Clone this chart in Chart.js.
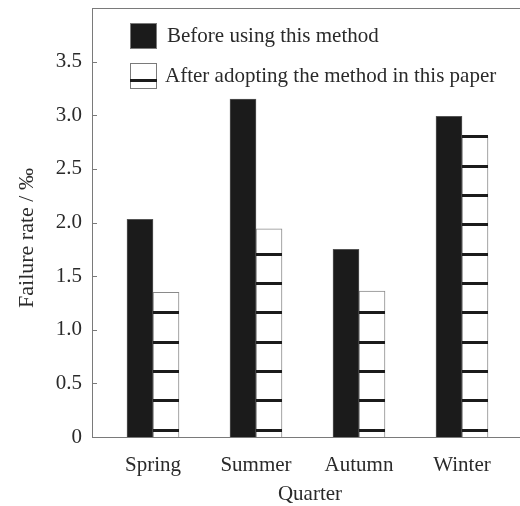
<!DOCTYPE html>
<html>
<head>
<meta charset="utf-8">
<script src="https://cdn.jsdelivr.net/npm/chart.js@4/dist/chart.umd.min.js"></script>
<style>
  html, body { margin: 0; padding: 0; background: #fff; }
  #wrap { width: 520px; height: 506px; position: relative; }
</style>
</head>
<body>
<div id="wrap"><canvas id="failureChart"></canvas></div>
<script>
const quarters = ['Spring', 'Summer', 'Autumn', 'Winter'];
const beforeMethod = [2.03, 3.15, 1.75, 2.99];
const afterMethod = [1.35, 1.94, 1.36, 2.80];
const yTicks = [0, 0.5, 1.0, 1.5, 2.0, 2.5, 3.0, 3.5];
const legendLabels = ['Before using this method', 'After adopting the method in this paper'];
const xTitle = 'Quarter';
const yTitle = 'Failure rate / \u2030';

const FONT = "'Liberation Serif', 'Times New Roman', serif";
const TEXT = '#2a2a2a';
const AXIS = '#7a7a7a';
const DARK = '#1b1b1b';

// hatch lines inside the "after" bars, measured from the bar base
const hatchStart = 7;
const hatchGap = 29.33;

function toPoints(values) {
  return values.map((v, i) => ({ x: i + 1, y: v }));
}

const hatchPlugin = {
  id: 'hatch',
  afterDatasetsDraw(chart) {
    const ctx = chart.ctx;
    const meta = chart.getDatasetMeta(1);
    ctx.save();
    ctx.fillStyle = DARK;
    meta.data.forEach((bar) => {
      const { x, y, base, width } = bar.getProps(['x', 'y', 'base', 'width'], true);
      const left = Math.round(x - width / 2);
      for (let k = 0; ; k++) {
        const cy = base - hatchStart - k * hatchGap;
        if (cy < y - 1.5) break;
        ctx.fillRect(left, Math.round(cy - 1.5), Math.round(width), 3);
      }
    });
    ctx.restore();
  },
};

const framePlugin = {
  id: 'frame',
  afterDraw(chart) {
    const ctx = chart.ctx;
    const area = chart.chartArea;
    const yScale = chart.scales.y;
    ctx.save();
    // top border
    ctx.strokeStyle = AXIS;
    ctx.lineWidth = 1;
    ctx.beginPath();
    ctx.moveTo(area.left, area.top + 0.5);
    ctx.lineTo(area.right, area.top + 0.5);
    ctx.stroke();
    // inward y ticks
    yTicks.forEach((v) => {
      const py = Math.round(yScale.getPixelForValue(v)) + 0.5;
      ctx.beginPath();
      ctx.moveTo(area.left, py);
      ctx.lineTo(area.left + 5, py);
      ctx.stroke();
    });

    // legend
    const boxX = 130;
    const boxW = 27;
    const boxH = 26;
    const rows = [23, 63];
    rows.forEach((top, i) => {
      ctx.lineWidth = 1;
      ctx.strokeStyle = AXIS;
      if (i === 0) {
        ctx.fillStyle = DARK;
        ctx.fillRect(boxX, top, boxW, boxH);
        ctx.strokeRect(boxX + 0.5, top + 0.5, boxW - 1, boxH - 1);
      } else {
        ctx.fillStyle = '#fff';
        ctx.fillRect(boxX, top, boxW, boxH);
        ctx.strokeRect(boxX + 0.5, top + 0.5, boxW - 1, boxH - 1);
        ctx.fillStyle = DARK;
        ctx.fillRect(boxX, top + 16, boxW, 3);
      }
      ctx.fillStyle = TEXT;
      ctx.font = '21px ' + FONT;
      ctx.textAlign = 'left';
      ctx.textBaseline = 'middle';
      ctx.fillText(legendLabels[i], i === 0 ? 167 : 165, top + boxH / 2);
    });

    // axis titles
    ctx.fillStyle = TEXT;
    ctx.font = '21px ' + FONT;
    ctx.textAlign = 'center';
    ctx.textBaseline = 'middle';
    ctx.fillText(xTitle, 310, 494);
    ctx.translate(33, 238);
    ctx.rotate(-Math.PI / 2);
    ctx.font = '22px ' + FONT;
    ctx.textBaseline = 'alphabetic';
    ctx.fillText(yTitle, 0, 0);
    ctx.restore();
  },
};

const ctx = document.getElementById('failureChart');
const failureChart = new Chart(ctx, {
  type: 'bar',
  data: {
    datasets: [
      {
        label: legendLabels[0],
        data: toPoints(beforeMethod),
        backgroundColor: DARK,
        borderColor: '#555',
        borderWidth: 1,
        barThickness: 26,
      },
      {
        label: legendLabels[1],
        data: toPoints(afterMethod),
        backgroundColor: '#fff',
        borderColor: '#8a8a8a',
        borderWidth: 1,
        barThickness: 26,
      },
    ],
  },
  options: {
    responsive: true,
    maintainAspectRatio: false,
    animation: false,
    layout: { padding: { top: 8, left: 0, right: 0, bottom: 0 } },
    plugins: {
      legend: { display: false },
      tooltip: { enabled: false },
    },
    scales: {
      x: {
        type: 'linear',
        offset: false,
        min: 1 - 61 / 103,
        max: 1 + (520 - 153) / 103,
        grid: { display: false, drawTicks: false },
        border: { display: true, color: AXIS, width: 1 },
        afterBuildTicks: (scale) => {
          scale.ticks = quarters.map((q, i) => ({ value: i + 1 }));
        },
        afterFit: (scale) => {
          scale.height = 69;
          scale.paddingLeft = 0;
          scale.paddingRight = 0;
        },
        ticks: {
          autoSkip: false,
          maxRotation: 0,
          padding: 16,
          color: TEXT,
          font: { family: FONT, size: 21 },
          callback: (value) => quarters[value - 1],
        },
      },
      y: {
        min: 0,
        max: 4,
        grid: { display: false, drawTicks: false },
        border: { display: true, color: AXIS, width: 1 },
        afterFit: (scale) => {
          scale.width = 92;
          scale.paddingTop = 0;
          scale.paddingBottom = 0;
        },
        ticks: {
          stepSize: 0.5,
          padding: 10,
          color: TEXT,
          font: { family: FONT, size: 21 },
          callback: (value) => {
            if (value === 4) return '';
            if (value === 0) return '0';
            return value.toFixed(1);
          },
        },
      },
    },
  },
  plugins: [hatchPlugin, framePlugin],
});
</script>
</body>
</html>
